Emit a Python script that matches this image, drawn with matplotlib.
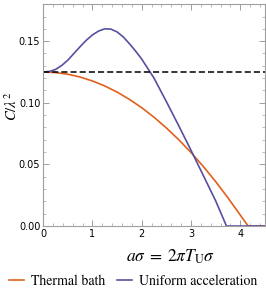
import numpy as np
import matplotlib
matplotlib.use("Agg")
import matplotlib.pyplot as plt
from matplotlib.ticker import MultipleLocator, FormatStrFormatter

# values
x_thermal = [0, 0.25, 0.5, 0.75, 1.0, 1.25, 1.5, 1.75, 2.0, 2.25, 2.5, 2.75,
             3.0, 3.25, 3.5, 3.75, 4.0, 4.16, 4.5]
c_thermal = [0.125, 0.1245, 0.1232, 0.1209, 0.1177, 0.1137, 0.1087, 0.1028,
             0.0960, 0.0883, 0.0796, 0.0701, 0.0597, 0.0483, 0.0361, 0.0229,
             0.0089, 0.0, 0.0]

x_accel = [0, 0.125, 0.25, 0.375, 0.5, 0.625, 0.75, 0.875, 1.0, 1.125, 1.25,
           1.375, 1.5, 1.625, 1.75, 1.875, 2.0, 2.25, 2.5, 2.75, 3.0, 3.25,
           3.5, 3.72, 4.5]
c_accel = [0.125, 0.1254, 0.1270, 0.1302, 0.1345, 0.1400, 0.1455, 0.1507,
           0.1550, 0.1582, 0.1600, 0.1598, 0.1575, 0.1535, 0.1480, 0.1420,
           0.1355, 0.1200, 0.1010, 0.0815, 0.0615, 0.0410, 0.0205, 0.0, 0.0]

c_limit = 0.125

orange = "#e0601c"
purple = "#5550a0"

plt.rcParams['mathtext.fontset'] = 'stix'

fig = plt.figure(figsize=(2.66, 2.99), dpi=100)
ax = fig.add_axes([0.162, 0.244, 0.834, 0.742])

ax.plot(x_thermal, c_thermal, color=orange, lw=1.2, label="Thermal bath")
ax.plot(x_accel, c_accel, color=purple, lw=1.2, label="Uniform acceleration")
ax.axhline(c_limit, color="black", lw=1.1, ls=(0, (4, 2)))

ax.set_xlim(0, 4.5)
ax.set_ylim(0, 0.18)
ax.xaxis.set_major_locator(MultipleLocator(1))
ax.xaxis.set_minor_locator(MultipleLocator(0.2))
ax.yaxis.set_major_locator(MultipleLocator(0.05))
ax.yaxis.set_minor_locator(MultipleLocator(0.01))
ax.yaxis.set_major_formatter(FormatStrFormatter('%.2f'))

for s in ax.spines.values():
    s.set_color("#a0a0a0")
    s.set_linewidth(0.8)
ax.tick_params(which='both', direction='in', top=True, right=True,
               color="#a0a0a0", labelsize=7, pad=2)
ax.tick_params(which='major', length=4, width=0.7)
ax.tick_params(which='minor', length=2, width=0.5)

ax.set_xlabel(r'$a\sigma\;=\;2\pi T_{\rm U}\sigma$', fontsize=12.5)
ax.xaxis.set_label_coords(0.575, -0.095)
ax.set_ylabel(r'$C/\lambda^2$', fontsize=10.5)
ax.yaxis.set_label_coords(-0.105, 0.54)

fig.legend(loc='lower center', bbox_to_anchor=(0.5, -0.005), ncol=2,
           frameon=False, handlelength=1.1, handletextpad=0.5,
           columnspacing=0.8, prop={'family': 'STIXGeneral', 'size': 10})

fig.savefig("out.png", dpi=100)
